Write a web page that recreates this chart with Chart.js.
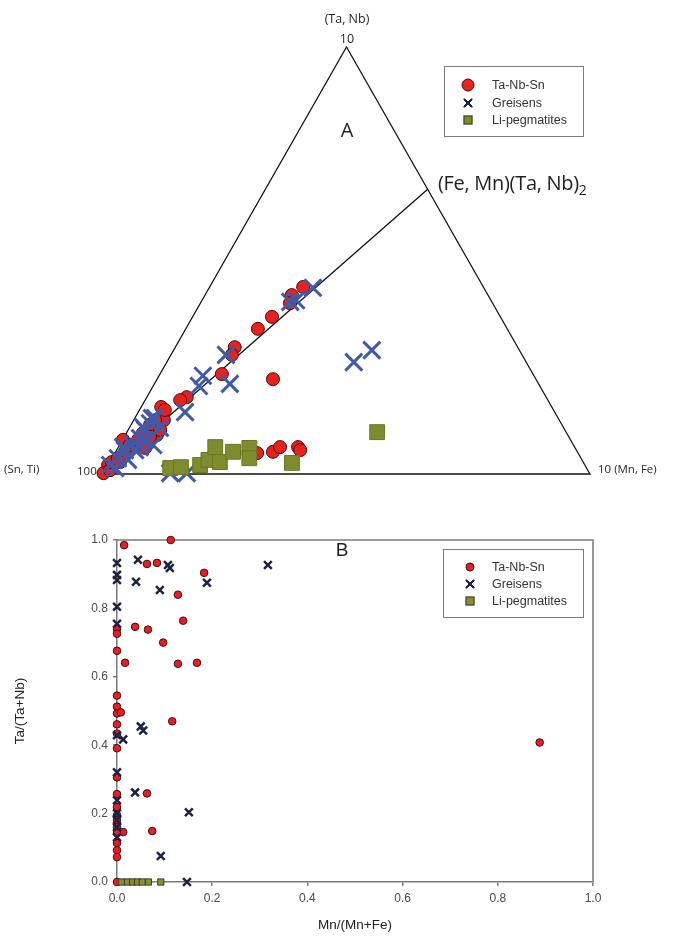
<!DOCTYPE html>
<html>
<head>
<meta charset="utf-8">
<script src="https://cdn.jsdelivr.net/npm/chart.js@4.4.1/dist/chart.umd.min.js"></script>
<style>
body { margin: 0; background: #fff; width: 676px; height: 937px; position: relative; overflow: hidden; font-family: "Liberation Sans", Arial, sans-serif; }
#ternWrap { position: absolute; left: 0; top: 0; width: 676px; height: 500px; }
#binWrap { position: absolute; left: 0; top: 500px; width: 676px; height: 437px; }
.lbl { position: absolute; white-space: nowrap; color: #231f20; font-family: "Open Sans", sans-serif; transform: translate(-50%, -50%); line-height: 1; }
.lbl.left { transform: translate(0, -50%); }
.legend { position: absolute; border: 1px solid #7a7a7a; background: #fff; }
.row { position: absolute; left: 0; height: 16px; font-size: 12.5px; color: #333; line-height: 16px; }
.row .txt { position: absolute; white-space: nowrap; }
.mk { position: absolute; transform: translate(-50%, -50%); }
</style>
</head>
<body>
<div id="ternWrap"><canvas id="ternary" width="676" height="500"></canvas></div>
<div id="binWrap"><canvas id="binary" width="676" height="437"></canvas></div>

<div class="lbl" style="left:347px;top:19px;font-size:12.5px">(Ta, Nb)</div>
<div class="lbl" style="left:347px;top:39px;font-size:12.5px">10</div>
<div class="lbl" style="left:347px;top:130px;font-size:20px">A</div>
<div class="lbl left" style="left:438px;top:183px;font-size:20px;letter-spacing:-0.3px">(Fe, Mn)(Ta, Nb)<span style="font-size:14px;position:relative;top:5px">2</span></div>
<div class="lbl left" style="left:4px;top:469px;font-size:11.5px">(Sn, Ti)</div>
<div class="lbl left" style="left:77px;top:471px;font-size:11.5px">100</div>
<div class="lbl left" style="left:598px;top:469px;font-size:11.5px">10 (Mn, Fe)</div>
<div class="lbl" style="left:342px;top:549px;font-size:19px;font-family:'Liberation Sans',Arial,sans-serif">B</div>

<div id="legA" class="legend" style="left:444px;top:66px;width:138px;height:69px"></div>
<div id="legB" class="legend" style="left:443px;top:549px;width:139px;height:67px"></div>

<script>
// ternary data, each point is [(Ta,Nb), (Mn,Fe)] as fractions, (Sn,Ti) is the rest
const ternTaNbSn = [
  [0.438, 0.192], [0.419, 0.178], [0.400, 0.184], [0.368, 0.163], [0.340, 0.148],
  [0.297, 0.122], [0.279, 0.125], [0.234, 0.127], [0.222, 0.238], [0.180, 0.082],
  [0.173, 0.072], [0.157, 0.041], [0.126, 0.062], [0.091, 0.065], [0.080, 0.001],
  [0.021, 0.000], [0.002, 0.000], [0.049, 0.292], [0.052, 0.323], [0.063, 0.332],
  [0.063, 0.369], [0.056, 0.377], [0.009, 0.010], [0.028, 0.004], [0.037, 0.012],
  [0.052, 0.019], [0.068, 0.021], [0.080, 0.032], [0.096, 0.034], [0.115, 0.039],
  [0.126, 0.044], [0.103, 0.066], [0.061, 0.056], [0.028, 0.021], [0.087, 0.053],
  [0.150, 0.052]
];
const ternGreisens = [
  [0.436, 0.213], [0.403, 0.183], [0.407, 0.193], [0.279, 0.113], [0.230, 0.090],
  [0.206, 0.094], [0.211, 0.155], [0.145, 0.096], [0.262, 0.384], [0.290, 0.407],
  [0.131, 0.035], [0.110, 0.027], [0.063, 0.044], [0.063, 0.010], [0.002, 0.137],
  [0.002, 0.171], [0.021, 0.004], [0.037, 0.012], [0.056, 0.017], [0.068, 0.026],
  [0.084, 0.034], [0.103, 0.035], [0.119, 0.037], [0.131, 0.041], [0.056, 0.038],
  [0.080, 0.046], [0.033, 0.035], [0.108, 0.063], [0.068, 0.069], [0.014, 0.018]
];
const ternLiPeg = [
  [0.014, 0.131], [0.016, 0.152], [0.021, 0.189], [0.033, 0.200], [0.063, 0.199],
  [0.028, 0.226], [0.052, 0.241], [0.061, 0.270], [0.037, 0.282], [0.026, 0.375],
  [0.098, 0.514]
];
// triangle corners and the (Fe,Mn)(Ta,Nb)2 tie line
const triangleFrame = [[0, 0], [0, 1], [1, 0], [0, 0]];
const tieLine = [[0, 0], [2 / 3, 1 / 3]];

// B: Mn/(Mn+Fe) vs Ta/(Ta+Nb)
const binTaNbSnX = [0.015, 0.113, 0.063, 0.084, 0.183, 0.128, 0.139, 0.038, 0.065, 0.097,
  0.017, 0.128, 0.168, 0, 0, 0, 0, 0, 0, 0.008, 0, 0.116, 0, 0, 0, 0, 0.063, 0, 0, 0,
  0, 0.013, 0, 0.074, 0, 0, 0, 0, 0.888];
const binTaNbSnY = [0.985, 1.0, 0.930, 0.933, 0.904, 0.840, 0.764, 0.746, 0.738, 0.700,
  0.641, 0.638, 0.641, 0.740, 0.726, 0.676, 0.545, 0.513, 0.493, 0.496, 0.461, 0.470, 0.434, 0.391, 0.306, 0.257, 0.259, 0.219, 0.195, 0.181,
  0.160, 0.146, 0.143, 0.149, 0.114, 0.093, 0.073, 0, 0.408];
const binGreisensX = [0, 0.044, 0.107, 0.111, 0.317, 0, 0, 0.040, 0.189, 0.090, 0, 0,
  0.050, 0.055, 0.013, 0, 0, 0.038, 0.151, 0, 0, 0, 0, 0, 0.092, 0.147];
const binGreisensY = [0.933, 0.942, 0.927, 0.918, 0.927, 0.898, 0.883, 0.878, 0.875, 0.854, 0.805, 0.755,
  0.455, 0.443, 0.417, 0.429, 0.321, 0.262, 0.204, 0.239, 0.201, 0.181, 0.160, 0.131, 0.076, 0];
const binLiPegX = [0.010, 0.022, 0.033, 0.043, 0.053, 0.066, 0.092];
const binLiPegY = [0, 0, 0, 0, 0, 0, 0];

const seriesNames = ['Ta-Nb-Sn', 'Greisens', 'Li-pegmatites'];

function toXY(p) { return { x: p[1] + p[0] / 2, y: p[0] }; }
function zip(xs, ys) { return xs.map((x, i) => ({ x: x, y: ys[i] })); }

Chart.defaults.font.family = '"Liberation Sans", Arial, sans-serif';

new Chart(document.getElementById('ternary').getContext('2d'), {
  type: 'scatter',
  data: {
    datasets: [
      { label: seriesNames[2], data: ternLiPeg.map(toXY), pointStyle: 'rect', pointRadius: 10.5,
        backgroundColor: '#7f8b2c', borderColor: '#6c7624', borderWidth: 1, clip: false },
      { label: seriesNames[1], data: ternGreisens.map(toXY), pointStyle: 'crossRot', pointRadius: 12,
        borderColor: '#4059a9', borderWidth: 3, clip: false },
      { label: seriesNames[0], data: ternTaNbSn.map(toXY), pointStyle: 'circle', pointRadius: 6.5,
        backgroundColor: '#e8201e', borderColor: '#4a0d0d', borderWidth: 1, clip: false },
      { label: 'frame', data: triangleFrame.map(toXY), showLine: true, pointRadius: 0,
        borderColor: '#111', borderWidth: 1.3, clip: false },
      { label: 'tie', data: tieLine.map(toXY), showLine: true, pointRadius: 0,
        borderColor: '#111', borderWidth: 1.3, clip: false }
    ]
  },
  options: {
    responsive: false,
    animation: false,
    devicePixelRatio: 1,
    layout: { padding: { left: 103, right: 86, top: 47, bottom: 26 } },
    scales: {
      x: { type: 'linear', min: 0, max: 1, display: false },
      y: { type: 'linear', min: 0, max: 1, display: false }
    },
    plugins: { legend: { display: false }, tooltip: { enabled: false } }
  }
});

const frameLines = {
  id: 'frameLines',
  beforeDatasetsDraw(chart) {
    const { ctx, chartArea: a } = chart;
    ctx.save();
    ctx.strokeStyle = '#7a7a7a';
    ctx.lineWidth = 1.5;
    ctx.beginPath();
    ctx.moveTo(a.left, a.top);
    ctx.lineTo(a.right, a.top);
    ctx.lineTo(a.right, a.bottom);
    ctx.stroke();
    ctx.restore();
  }
};

new Chart(document.getElementById('binary').getContext('2d'), {
  type: 'scatter',
  data: {
    datasets: [
      { label: seriesNames[1], data: zip(binGreisensX, binGreisensY), pointStyle: 'crossRot', pointRadius: 5.5,
        borderColor: '#1d2342', borderWidth: 2.5, clip: false },
      { label: seriesNames[2], data: zip(binLiPegX, binLiPegY), pointStyle: 'rect', pointRadius: 4.4,
        backgroundColor: '#8a8e2e', borderColor: '#3b3b2a', borderWidth: 1, clip: false },
      { label: seriesNames[0], data: zip(binTaNbSnX, binTaNbSnY), pointStyle: 'circle', pointRadius: 3.8,
        backgroundColor: '#ec1c24', borderColor: '#3a1010', borderWidth: 1, clip: false }
    ]
  },
  options: {
    responsive: false,
    animation: false,
    devicePixelRatio: 1,
    layout: { padding: { left: 0, right: 83, top: 40, bottom: 0 } },
    scales: {
      x: {
        type: 'linear', min: 0, max: 1,
        ticks: { stepSize: 0.2, padding: 5, color: '#4a4a4a', font: { size: 12 }, callback: v => v.toFixed(1) },
        grid: { drawOnChartArea: false, tickLength: 4, color: '#7a7a7a', lineWidth: 1.5 },
        border: { color: '#7a7a7a', width: 1.5 },
        title: { display: true, text: 'Mn/(Mn+Fe)', color: '#222', font: { size: 13.5 }, padding: { top: 0, bottom: 4 } },
        afterFit(s) { s.height = 55; }
      },
      y: {
        type: 'linear', min: 0, max: 1,
        ticks: { stepSize: 0.2, padding: 5, color: '#4a4a4a', font: { size: 12 }, callback: v => v.toFixed(1) },
        grid: { drawOnChartArea: false, tickLength: 4, color: '#7a7a7a', lineWidth: 1.5 },
        border: { color: '#7a7a7a', width: 1.5 },
        title: { display: true, text: 'Ta/(Ta+Nb)', color: '#222', font: { size: 13.5 }, padding: { top: 12, bottom: 0 } },
        afterFit(s) { s.width = 117; }
      }
    },
    plugins: { legend: { display: false }, tooltip: { enabled: false } }
  },
  plugins: [frameLines]
});

// legend boxes
function makeLegend(id, rows, markX, textX, markers) {
  const box = document.getElementById(id);
  seriesNames.forEach((name, i) => {
    const row = document.createElement('div');
    row.className = 'row';
    row.style.top = (rows[i] - 8) + 'px';
    row.style.width = '100%';
    const m = document.createElement('div');
    m.className = 'mk';
    m.style.left = markX + 'px';
    m.style.top = '8px';
    Object.assign(m.style, markers[i]);
    const t = document.createElement('span');
    t.className = 'txt';
    t.style.left = textX + 'px';
    t.textContent = name;
    row.appendChild(m);
    row.appendChild(t);
    box.appendChild(row);
  });
}
const xMark = { width: '9px', height: '9px',
  background: 'linear-gradient(45deg, transparent 40%, #1d2342 40%, #1d2342 60%, transparent 60%), linear-gradient(-45deg, transparent 40%, #1d2342 40%, #1d2342 60%, transparent 60%)' };
makeLegend('legA', [18, 36, 53], 23, 47, [
  { width: '11px', height: '11px', borderRadius: '50%', background: '#e8201e', border: '1px solid #4a0d0d' },
  xMark,
  { width: '7px', height: '7px', background: '#7f8b2c', border: '1px solid #3b3b2a' }
]);
makeLegend('legB', [17, 34, 51], 26, 48, [
  { width: '7px', height: '7px', borderRadius: '50%', background: '#ec1c24', border: '1px solid #3a1010' },
  xMark,
  { width: '7px', height: '7px', background: '#8a8e2e', border: '1px solid #3b3b2a' }
]);
</script>
</body>
</html>
